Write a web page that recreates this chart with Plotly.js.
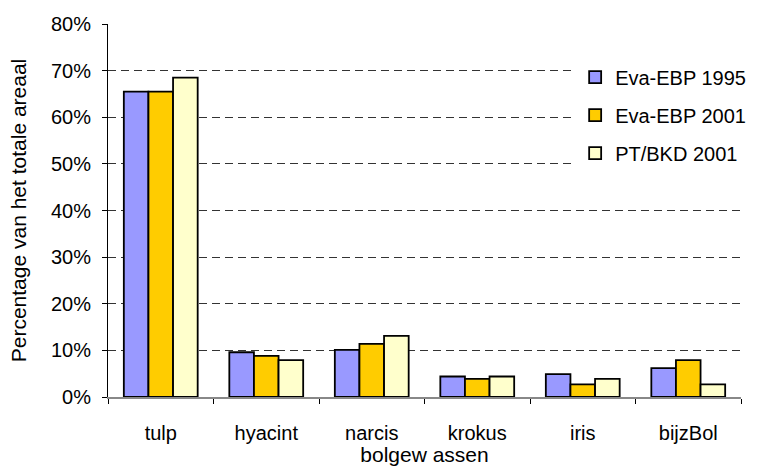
<!DOCTYPE html>
<html>
<head>
<meta charset="utf-8">
<script src="https://cdn.plot.ly/plotly-3.0.1.min.js"></script>
<style>html,body{margin:0;padding:0;background:#fff;}#chart{width:763px;height:466px;}</style>
</head>
<body>
<div id="chart"></div>
<script>
const categories = ["tulp", "hyacint", "narcis", "krokus", "iris", "bijzBol"];
const seriesNames = ["Eva-EBP 1995", "Eva-EBP 2001", "PT/BKD 2001"];
const evaEBP1995 = [0.655, 0.096, 0.101, 0.044, 0.049, 0.062];
const evaEBP2001 = [0.655, 0.088, 0.114, 0.039, 0.027, 0.079];
const ptBKD2001 = [0.685, 0.079, 0.131, 0.044, 0.039, 0.027];
const yTickVals = [0, 0.1, 0.2, 0.3, 0.4, 0.5, 0.6, 0.7, 0.8];
const yTickText = ["0%", "10%", "20%", "30%", "40%", "50%", "60%", "70%", "80%"];

const colors = ["#9999FF", "#FFCC00", "#FFFFCC"];
const seriesData = [evaEBP1995, evaEBP2001, ptBKD2001];

const traces = seriesData.map((vals, i) => ({
  type: "bar",
  name: seriesNames[i],
  x: categories,
  y: vals,
  legendgroup: "g" + i,
  marker: { color: colors[i], line: { color: "#000", width: 1.8 } },
  hoverinfo: "skip"
}));

const layout = {
  width: 763,
  height: 466,
  margin: { l: 108, r: 12, t: 24, b: 69 },
  paper_bgcolor: "#fff",
  plot_bgcolor: "#fff",
  font: { family: "Liberation Sans, Arial, sans-serif", size: 20, color: "#000" },
  barmode: "group",
  bargap: 0.3,
  bargroupgap: 0,
  showlegend: true,
  legend: {
    x: 0.738, y: 0.91, xanchor: "left", yanchor: "top",
    bgcolor: "#fff",
    font: { size: 20, color: "#000" },
    tracegroupgap: 9,
    traceorder: "grouped",
    itemwidth: 30
  },
  xaxis: {
    type: "category",
    showline: true,
    linecolor: "#888",
    linewidth: 1.5,
    ticks: "outside",
    tickson: "boundaries",
    ticklen: 5,
    tickcolor: "#000",
    ticklabelstandoff: 17,
    showgrid: false,
    title: { text: "bolgew assen", font: { size: 21 }, standoff: 10 }
  },
  yaxis: {
    range: [0, 0.8],
    tickvals: yTickVals,
    ticktext: yTickText,
    showline: true,
    linecolor: "#000",
    linewidth: 1,
    ticks: "outside",
    ticklen: 5,
    tickcolor: "#000",
    ticklabelstandoff: 7,
    showgrid: true,
    gridcolor: "#333",
    griddash: "8px,5px",
    gridwidth: 1,
    zeroline: false,
    title: { text: "Percentage van het totale areaal", font: { size: 21 }, standoff: 18 }
  }
};

Plotly.newPlot("chart", traces, layout, { displayModeBar: false, staticPlot: true });
</script>
</body>
</html>
